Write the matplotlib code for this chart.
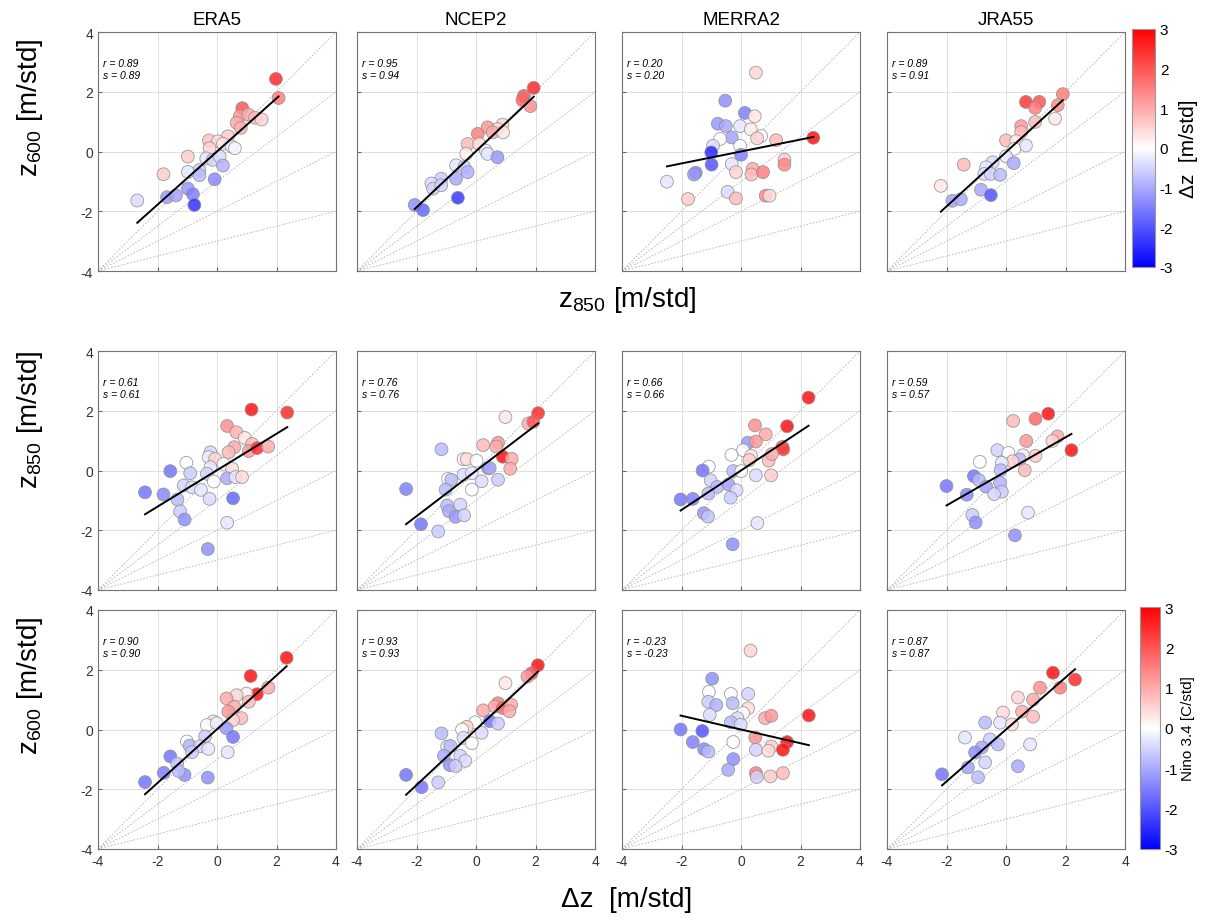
import numpy as np
import matplotlib
matplotlib.use("Agg")
import matplotlib.pyplot as plt
from matplotlib.colors import Normalize

plt.rcParams["font.family"] = ["Liberation Sans", "DejaVu Sans"]
plt.rcParams["mathtext.fontset"] = "custom"
plt.rcParams["mathtext.rm"] = "Liberation Sans"
plt.rcParams["mathtext.it"] = "Liberation Sans:italic"
plt.rcParams["axes.unicode_minus"] = False

# column titles and per-panel stats
datasets = ["ERA5", "NCEP2", "MERRA2", "JRA55"]
r_vals = [[0.89, 0.95, 0.20, 0.89],
          [0.61, 0.76, 0.66, 0.59],
          [0.90, 0.93, -0.23, 0.87]]
s_vals = [[0.89, 0.94, 0.20, 0.91],
          [0.61, 0.76, 0.66, 0.57],
          [0.90, 0.93, -0.23, 0.87]]
fit_b = [[0.0, 0.01, 0.0, -0.02],
         [0.01, -0.01, 0.0, -0.03],
         [0.01, 0.0, 0.0, 0.0]]

# row 1: z600 vs z850, coloured by dz
era5_r1_x = [1.98, 2.07, 0.85, 0.77, 1.05, 1.28, 1.5, 0.66, 0.8, 0.37, -0.27, 0.03, 0.2, -0.25, 0.49, 0.6,
             -0.98, -0.36, -0.14, 0.09, 0.2, -0.59, -0.98, -1.8, -0.59, -0.08, -0.98, -0.81, -0.76, -1.68, -1.38, -2.68]
era5_r1_y = [2.43, 1.79, 1.45, 1.19, 1.24, 1.13, 1.07, 0.96, 0.79, 0.51, 0.37, 0.34, 0.26, 0.11, 0.17, 0.11,
             -0.17, -0.23, -0.28, -0.17, -0.47, -0.62, -0.68, -0.76, -0.79, -0.93, -1.24, -1.43, -1.79, -1.53, -1.47, -1.64]
era5_r1_c = [2.5, 1.5, 2.0, 1.2, 1.0, 0.8, 0.5, 1.0, 0.9, 0.6, 0.7, 0.4, 0.3, 0.5, -0.2, -0.1,
             0.6, -0.3, -0.5, -0.4, -0.9, -0.6, -0.3, 0.6, -0.8, -1.4, -1.2, -1.5, -2.4, -1.2, -1.1, -0.4]

ncep2_r1_x = [1.94, 1.61, 1.56, 1.83, 0.89, 0.72, 0.39, 0.06, 0.56, 0.91, -0.28, 0.11, -0.33, 0.33, 0.39, 0.72,
              -0.67, -0.39, -0.28, -0.67, -1.17, -1.5, -1.44, -1.17, -0.61, -2.06, -1.78]
ncep2_r1_y = [2.13, 1.86, 1.72, 1.52, 0.9, 0.75, 0.81, 0.59, 0.64, 0.64, 0.25, 0.25, -0.08, 0.03, -0.08, -0.19,
              -0.46, -0.52, -0.69, -0.91, -0.91, -1.07, -1.24, -1.13, -1.55, -1.79, -1.96]
ncep2_r1_c = [2.5, 2.0, 1.8, 1.3, 0.5, 0.4, 1.2, 1.5, 1.0, 0.3, 0.8, 0.4, 0.2, -0.2, -0.3, -1.2,
              -0.3, -0.6, -0.9, -1.0, -0.6, -0.4, -0.5, -0.5, -2.3, -1.3, -1.8]

merra2_r1_x = [0.5, -0.53, 0.13, 0.46, -0.78, -0.51, -0.03, 0.33, 0.68, 0.54, 1.18, -0.31, -0.7, -0.94, -0.03, 2.43,
               -1.0, 0.0, -0.99, -0.31, -0.17, 0.39, 0.35, 0.74, 1.46, 1.46, -1.52, -1.58, -2.49, -1.78, -0.45, -0.17,
               0.83, 0.96]
merra2_r1_y = [2.64, 1.7, 1.29, 1.18, 0.93, 0.85, 0.85, 0.74, 0.52, 0.44, 0.38, 0.47, 0.42, 0.19, 0.19, 0.46,
               -0.03, -0.11, -0.44, -0.42, -0.69, -0.58, -0.77, -0.69, -0.27, -0.44, -0.71, -0.77, -1.01, -1.59, -1.35, -1.57,
               -1.48, -1.48]
merra2_r1_c = [0.5, -1.3, -1.5, 0.3, -1.2, -1.0, -0.3, 0.2, 0.0, 0.5, 0.8, -1.1, 0.0, -0.4, 0.0, 2.8,
               -2.5, -1.5, -2.0, -0.3, 0.5, 1.0, 0.8, 1.5, 0.6, 1.4, -1.5, -1.2, -0.3, 0.6, -0.4, 0.8,
               1.4, 0.4]

jra55_r1_x = [1.91, 1.74, 0.67, 1.12, 0.98, 1.65, 0.98, 0.51, 0.51, 0.0, 0.34, 0.67, 0.28, 0.0, 0.26, -0.45,
              -0.67, -0.73, -0.51, -0.2, -1.42, -2.19, -0.84, -0.51, -1.8, -1.52]
jra55_r1_y = [1.92, 1.55, 1.66, 1.66, 1.46, 1.1, 0.99, 0.85, 0.65, 0.37, 0.35, 0.2, 0.09, -0.16, -0.39, -0.36,
              -0.53, -0.75, -0.75, -0.78, -0.44, -1.15, -1.28, -1.46, -1.65, -1.6]
jra55_r1_c = [1.5, 1.3, 2.3, 2.0, 1.5, 0.3, 0.8, 1.2, 0.8, 0.8, 0.3, -0.3, 0.0, -0.3, -1.0, -0.4,
              -0.3, -0.4, -0.5, -0.8, 0.8, 0.3, -1.0, -2.0, -1.1, -1.0]

# row 2: z850 vs dz, coloured by Nino 3.4
era5_r2_x = [1.16, 2.36, 0.34, 0.65, 0.93, 1.18, 0.58, 0.39, 1.07, 1.35, 1.72, -0.22, -0.28, -0.06, -1.03, 0.22,
             -0.22, 0.51, -1.57, -0.9, -0.34, 0.34, 0.62, 0.84, -0.11, -1.12, -0.84, -0.54, -2.42, -1.8, -1.33, -0.25,
             0.54, -1.24, -1.09, 0.34, -0.31]
era5_r2_y = [2.04, 1.94, 1.49, 1.28, 1.09, 0.89, 0.78, 0.61, 0.65, 0.75, 0.8, 0.61, 0.45, 0.39, 0.26, 0.22,
             0.11, 0.06, -0.02, -0.09, -0.11, -0.26, -0.22, -0.22, -0.37, -0.5, -0.56, -0.65, -0.73, -0.8, -0.97, -0.95,
             -0.93, -1.37, -1.64, -1.75, -2.63]
era5_r2_c = [2.8, 2.5, 1.3, 0.9, 0.3, 0.8, 1.0, 0.8, 1.2, 2.5, 1.0, -0.5, -0.2, 0.5, 0.0, 0.0,
             -0.3, 0.4, -1.6, -0.6, -0.5, -1.0, -0.3, 0.4, 0.0, -0.5, -0.4, -0.3, -1.6, -1.4, -0.8, -0.4,
             -1.8, -0.6, -1.3, -0.3, -1.3]

ncep2_r2_x = [2.09, 0.99, 1.76, 1.93, 0.24, 0.74, 0.68, 0.9, 1.2, 1.15, -1.16, -0.42, -0.31, 0.02, 0.41, 0.46,
              -0.42, -0.14, -0.94, -0.83, 0.19, 0.74, -0.14, -1.02, -2.35, -0.97, -0.53, -0.91, -0.69, -0.4, -1.85, -1.27]
ncep2_r2_y = [1.92, 1.79, 1.57, 1.63, 0.85, 0.93, 0.8, 0.46, 0.39, 0.06, 0.71, 0.38, 0.38, 0.33, 0.08, 0.08,
              -0.14, -0.09, -0.28, -0.31, -0.36, -0.31, -0.64, -0.64, -0.62, -1.17, -1.14, -1.36, -1.55, -1.5, -1.8, -2.04]
ncep2_r2_c = [2.5, 0.3, 1.0, 2.0, 0.8, 1.2, 1.0, 2.8, 1.0, 1.0, -0.8, 0.1, 0.4, 0.0, -1.4, -1.0,
              -0.4, -0.3, 0.0, -0.8, -0.4, -0.6, 0.0, -0.8, -1.5, -0.8, -0.5, -1.0, -1.2, -0.5, -1.6, -0.6]

merra2_r2_x = [2.27, 1.55, 0.47, 0.83, 0.23, 0.5, 1.39, 1.42, 0.07, -0.32, 0.34, 0.28, 0.93, 1.04, -1.08, -1.29,
               -0.26, 0.01, 0.5, 1.01, -1.02, -0.8, -0.42, -0.15, -1.1, -0.35, -2.03, -1.62, -1.25, -1.11, 0.55, -0.28]
merra2_r2_y = [2.44, 1.48, 1.51, 1.21, 0.93, 0.97, 0.79, 0.71, 0.68, 0.52, 0.49, 0.35, 0.33, 0.55, 0.13, 0.0,
               -0.02, -0.02, -0.16, -0.16, -0.33, -0.55, -0.47, -0.66, -0.77, -0.91, -0.97, -0.95, -1.43, -1.54, -1.76, -2.47]
merra2_r2_c = [2.8, 2.8, 1.3, 1.0, -1.2, 1.2, 1.8, 2.3, 0.0, 0.0, 0.3, 0.6, 0.8, 1.0, 0.0, -1.6,
               -0.8, 0.0, -0.4, 0.6, -0.5, -0.8, -1.1, -0.4, -0.8, -0.6, -1.6, -1.5, -1.2, -0.7, -0.3, -1.3]

jra55_r2_x = [1.42, 0.99, 0.24, 1.73, 1.56, 0.68, 2.2, -0.29, 0.08, 0.57, 0.99, 0.46, 0.22, -0.88, -0.14, 0.63,
              -0.18, -1.08, -0.91, -0.2, -0.67, -0.14, -0.4, -2.0, -1.32, -1.13, -1.02, 0.74, 0.3]
jra55_r2_y = [1.9, 1.73, 1.66, 1.14, 0.99, 0.99, 0.68, 0.68, 0.59, 0.51, 0.49, 0.37, 0.31, 0.29, 0.26, 0.01,
              0.01, -0.19, -0.32, -0.41, -0.54, -0.71, -0.79, -0.52, -0.81, -1.49, -1.74, -1.41, -2.17]
jra55_r2_c = [2.8, 1.8, 0.8, 1.0, 0.5, 1.2, 2.8, -0.5, 0.0, 0.2, 0.6, -0.8, 0.5, 0.0, -0.3, 0.8,
              -0.8, -1.6, -0.8, -0.9, -1.1, -0.6, -0.5, -1.6, -1.4, -0.6, -1.3, -0.3, -1.3]

# row 3: z600 vs dz, coloured by Nino 3.4
era5_r3_x = [2.34, 1.13, 1.34, 1.73, 0.99, 0.66, 0.32, 1.07, 0.58, 0.38, 0.82, 0.54, -0.12, -0.34, -0.01, 0.32,
             0.54, -0.4, -1.01, -0.92, -0.57, -0.29, -0.84, 0.36, -1.57, -1.34, -1.79, -1.09, -0.31, -2.42, -1.29]
era5_r3_y = [2.4, 1.79, 1.18, 1.4, 1.2, 1.15, 1.04, 0.93, 0.76, 0.6, 0.38, 0.32, 0.27, 0.15, 0.21, 0.04,
             -0.25, -0.23, -0.4, -0.54, -0.56, -0.65, -0.76, -0.76, -0.9, -1.14, -1.45, -1.52, -1.61, -1.76, -1.39]
era5_r3_c = [2.8, 2.8, 2.8, 1.0, 0.2, 0.5, 1.0, 0.8, 1.0, 1.2, 0.8, 0.5, 0.3, 0.0, -0.2, -1.2,
             -1.6, -0.6, 0.0, -0.9, -0.5, -0.3, -0.6, -0.3, -1.6, -0.7, -1.5, -1.3, -1.3, -1.6, -0.8]

ncep2_r3_x = [2.08, 1.87, 1.73, 0.99, 0.74, 0.63, 0.9, 1.18, 1.12, 0.24, -0.03, -0.31, -0.47, 0.46, 0.74, 0.19,
              -1.16, -0.42, -0.14, -0.97, -0.86, -0.53, -1.08, -0.36, -0.88, -0.69, -2.35, -1.83, -1.27]
ncep2_r3_y = [2.15, 1.88, 1.77, 1.55, 0.88, 0.77, 0.72, 0.83, 0.61, 0.64, 0.24, 0.09, 0.0, 0.28, 0.2, -0.11,
              -0.13, -0.28, -0.46, -0.57, -0.55, -0.88, -0.88, -1.05, -1.19, -1.22, -1.52, -1.93, -1.77]
ncep2_r3_c = [2.8, 2.0, 1.2, 0.3, 1.5, 1.0, 1.8, 1.0, 1.0, 1.0, 0.0, 0.5, 0.0, -1.6, -0.6, -0.4,
              -0.8, -0.4, 0.0, -0.3, -0.8, -0.5, -1.0, -0.4, -1.3, -0.6, -1.6, -1.6, -0.6]

merra2_r3_x = [0.32, -0.97, -1.08, -0.34, 0.24, -1.1, -0.83, -0.28, 0.24, 0.07, -1.05, -0.12, 0.81, 1.02, 2.28, -0.34,
               -0.01, -2.03, -1.3, -1.62, -0.26, 0.48, 0.5, 1.02, 0.92, 1.55, 1.41, -1.24, -1.1, -0.26, -0.43, 0.5,
               0.53, 0.99, 1.41]
merra2_r3_y = [2.64, 1.7, 1.26, 1.19, 1.19, 0.93, 0.82, 0.88, 0.71, 0.55, 0.49, 0.38, 0.38, 0.46, 0.47, 0.24,
               0.16, 0.0, -0.05, -0.42, -0.42, -0.27, -0.68, -0.57, -0.71, -0.42, -0.68, -0.66, -0.74, -0.99, -1.35, -1.46,
               -1.59, -1.57, -1.46]
merra2_r3_c = [0.5, -1.3, 0.0, 0.0, -0.5, -0.6, -0.9, -0.8, 0.4, 0.0, -0.4, -0.4, 1.0, 1.2, 2.8, -0.8,
               -0.4, -1.6, -2.0, -1.5, 0.0, 1.3, -0.5, 0.6, 0.4, 2.8, 2.8, -1.4, -0.8, -1.3, -1.0, 1.5,
               -0.5, 0.6, 0.8]

jra55_r3_x = [1.58, 2.32, 1.82, 1.14, 0.91, 0.4, -0.1, 0.54, -0.2, 0.2, 0.91, -0.7, -1.38, -0.54, -0.27, -0.81,
              0.81, -1.04, 0.4, -1.28, -0.94, -2.15, -0.7]
jra55_r3_y = [1.9, 1.67, 1.4, 1.4, 1.0, 1.07, 0.57, 0.6, 0.23, 0.17, 0.43, 0.23, -0.27, -0.33, -0.5, -0.6,
              -0.5, -0.77, -1.23, -1.27, -1.6, -1.5, -1.1]
jra55_r3_c = [2.8, 2.5, 1.5, 1.3, 1.0, 0.5, 0.4, 1.0, -0.3, 0.4, 0.8, -0.8, -0.3, -0.6, -0.8, -1.0,
              -0.3, -1.3, -1.0, -1.1, -0.8, -1.6, -0.5]

panels = [
    [(era5_r1_x, era5_r1_y, era5_r1_c), (ncep2_r1_x, ncep2_r1_y, ncep2_r1_c),
     (merra2_r1_x, merra2_r1_y, merra2_r1_c), (jra55_r1_x, jra55_r1_y, jra55_r1_c)],
    [(era5_r2_x, era5_r2_y, era5_r2_c), (ncep2_r2_x, ncep2_r2_y, ncep2_r2_c),
     (merra2_r2_x, merra2_r2_y, merra2_r2_c), (jra55_r2_x, jra55_r2_y, jra55_r2_c)],
    [(era5_r3_x, era5_r3_y, era5_r3_c), (ncep2_r3_x, ncep2_r3_y, ncep2_r3_c),
     (merra2_r3_x, merra2_r3_y, merra2_r3_c), (jra55_r3_x, jra55_r3_y, jra55_r3_c)],
]

W, H = 1206, 920
fig = plt.figure(figsize=(W / 100, H / 100), dpi=100)


def px_rect(left, top, right, bottom):
    return [left / W, 1 - bottom / H, (right - left) / W, (bottom - top) / H]


col_left = [98, 357, 622, 887]
row_top = [33, 352, 611]
ax_w, ax_h = 238, 239

cmap = plt.get_cmap("bwr")
norm = Normalize(-3, 3)
ticks = [-4, -2, 0, 2, 4]
ref_end = [4, 2, 0, -2]

for i in range(3):
    for j in range(4):
        l, t = col_left[j], row_top[i]
        ax = fig.add_axes(px_rect(l, t, l + ax_w, t + ax_h))
        ax.set_xlim(-4, 4)
        ax.set_ylim(-4, 4)
        ax.set_xticks(ticks)
        ax.set_yticks(ticks)
        ax.grid(True, color="0.88", lw=0.7)
        ax.set_axisbelow(True)
        for e in ref_end:
            ax.plot([-4, 4], [-4, e], color="0.7", lw=0.6, ls=(0, (2, 2)), zorder=1)
        x, y, c = panels[i][j]
        ax.scatter(x, y, c=c, cmap=cmap, norm=norm, s=85, edgecolors="0.55",
                   linewidths=0.6, alpha=0.85, zorder=3)
        xs = np.array([min(x), max(x)])
        ax.plot(xs, s_vals[i][j] * xs + fit_b[i][j], color="k", lw=1.4, zorder=4)
        ax.text(0.02, 0.89, f"r = {r_vals[i][j]:.2f}\ns = {s_vals[i][j]:.2f}",
                transform=ax.transAxes, fontsize=7.5, style="italic", va="top",
                linespacing=1.2)
        ax.tick_params(direction="in", length=3, color="0.4", labelsize=10,
                       labelcolor="0.2", top=False, right=False)
        if j > 0:
            ax.set_yticklabels([])
        if i < 2:
            ax.set_xticklabels([])
        for sp in ax.spines.values():
            sp.set_color("0.45")
            sp.set_linewidth(0.8)
        if i == 0:
            ax.set_title(datasets[j], fontsize=13.5, pad=6)

# row labels
row_label_y = [108, 420, 686]
row_labels = ["z$_{600}$ [m/std]", "z$_{850}$ [m/std]", "z$_{600}$ [m/std]"]
for yy, lab in zip(row_label_y, row_labels):
    fig.text(30 / W, 1 - yy / H, lab, rotation=90, fontsize=20,
             ha="center", va="center")
fig.text(627 / W, 1 - 300 / H, "z$_{850}$ [m/std]", fontsize=20, ha="center", va="center")
fig.text(627 / W, 1 - 900 / H, "\u0394z  [m/std]", fontsize=20, ha="center", va="center")

# colourbars
sm = plt.cm.ScalarMappable(norm=norm, cmap=cmap)
cax1 = fig.add_axes(px_rect(1132, 30, 1155, 268))
cb1 = fig.colorbar(sm, cax=cax1, ticks=[-3, -2, -1, 0, 1, 2, 3])
cb1.ax.tick_params(labelsize=11, length=0)
cb1.outline.set_edgecolor("0.6")
cb1.set_label("\u0394z  [m/std]", fontsize=15, labelpad=4)

cax2 = fig.add_axes(px_rect(1140, 608, 1160, 850))
cb2 = fig.colorbar(sm, cax=cax2, ticks=[-3, -2, -1, 0, 1, 2, 3])
cb2.ax.tick_params(labelsize=11, length=0)
cb2.outline.set_edgecolor("0.6")
cb2.set_label("Nino 3.4 [C/std]", fontsize=11, labelpad=2)

fig.savefig("out.png", dpi=100)
